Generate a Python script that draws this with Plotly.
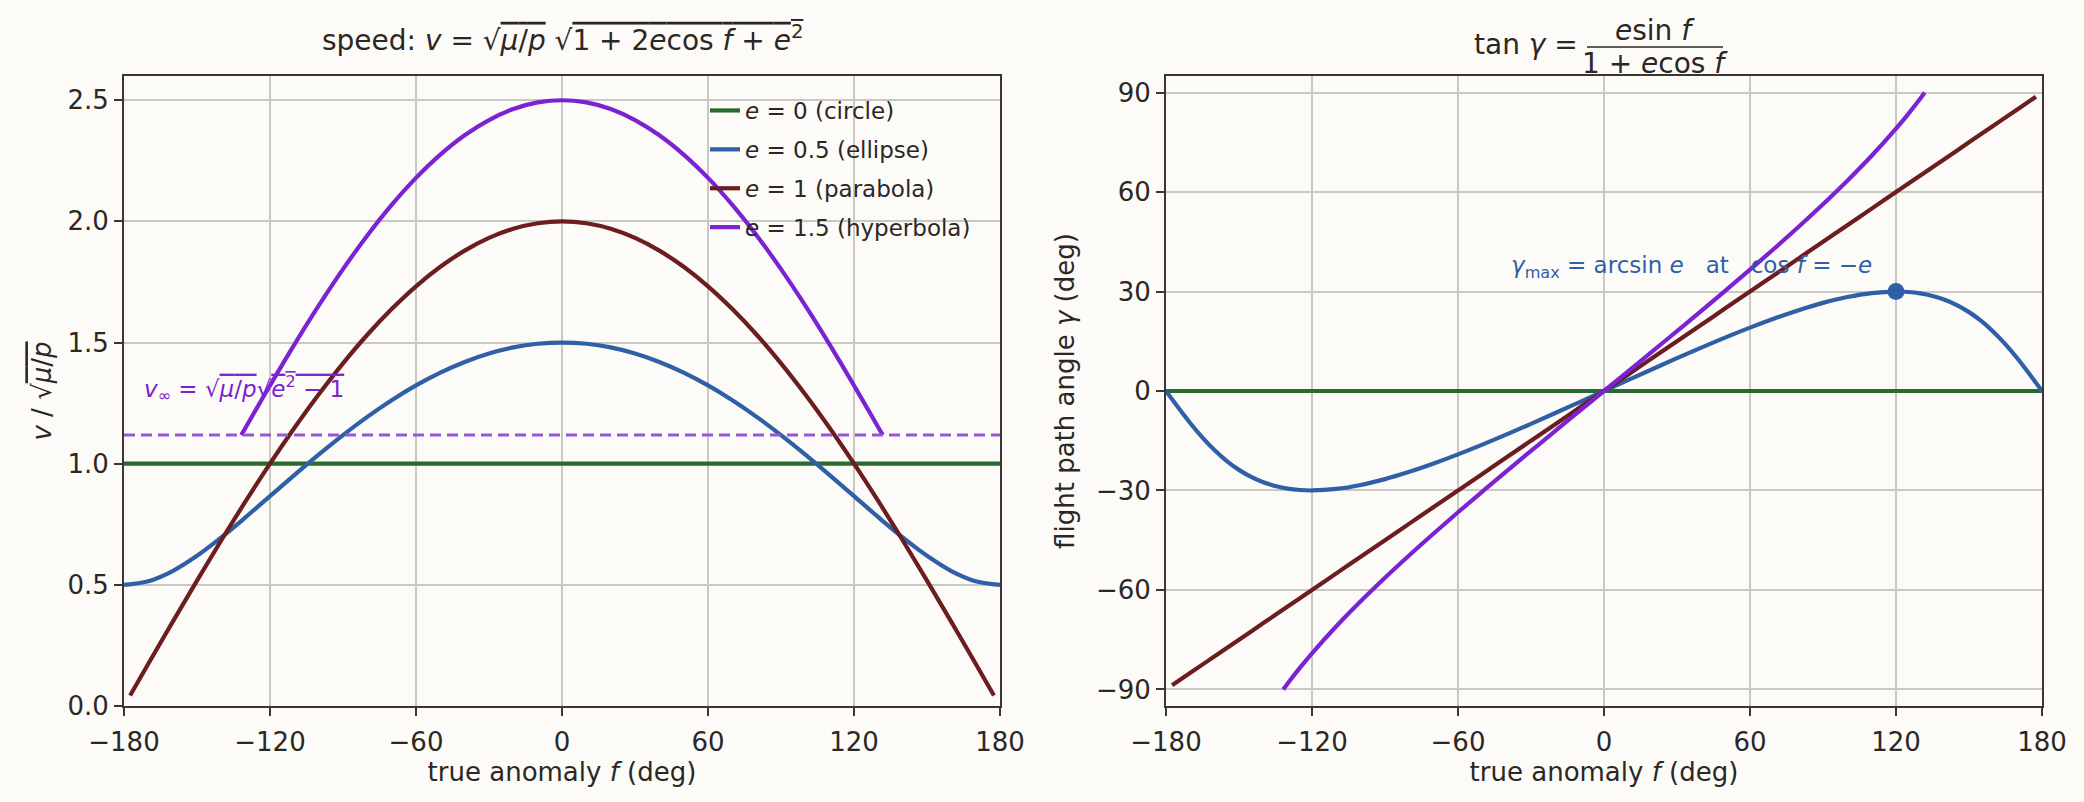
import plotly.graph_objects as go

W, H = 2084, 802
BG = '#fcfbf7'
TXT = '#2b2724'
FRAME = '#3b3632'
GRID = '#cac8c3'
C_CIR = '#2a6a2e'
C_ELL = '#2e5fa7'
C_PAR = '#6b1d1f'
C_HYP = '#7b22d3'
C_DASH = '#9a55de'
FONT = 'DejaVu Sans'

# ---------------- data ----------------
# circle e = 0
F_CIR = [-180, 180]
V_CIR = [1.0, 1.0]
G_CIR = [0.0, 0.0]

# ellipse e = 0.5 : speed
F_ELL = [-180, -170, -160, -150, -140, -130, -120, -110, -100, -90, -80, -70, -60,
         -50, -40, -30, -20, -10, 0, 10, 20, 30, 40, 50, 60, 70, 80, 90, 100, 110,
         120, 130, 140, 150, 160, 170, 180]
V_ELL = [0.5, 0.515, 0.5571, 0.6197, 0.6957, 0.7792, 0.866, 0.9529, 1.0375, 1.118,
         1.1932, 1.2618, 1.3229, 1.3758, 1.4199, 1.4547, 1.4798, 1.4949, 1.5,
         1.4949, 1.4798, 1.4547, 1.4199, 1.3758, 1.3229, 1.2618, 1.1932, 1.118,
         1.0375, 0.9529, 0.866, 0.7792, 0.6957, 0.6197, 0.5571, 0.515, 0.5]

# ellipse e = 0.5 : flight path angle
F_ELL_G = [-180, -175, -170, -165, -160, -155, -150, -145, -140, -135, -130, -125,
           -120, -110, -100, -90, -80, -70, -60, -50, -40, -30, -20, -10, 0,
           10, 20, 30, 40, 50, 60, 70, 80, 90, 100, 110, 120,
           125, 130, 135, 140, 145, 150, 155, 160, 165, 170, 175, 180]
G_ELL = [0.0, -4.96, -9.71, -14.05, -17.88, -21.13, -23.79, -25.91, -27.52, -28.67,
         -29.44, -29.86, -30.0, -29.54, -28.34, -26.57, -24.37, -21.86, -19.11,
         -16.17, -13.08, -9.9, -6.64, -3.33, 0.0,
         3.33, 6.64, 9.9, 13.08, 16.17, 19.11, 21.86, 24.37, 26.57, 28.34, 29.54,
         30.0, 29.86, 29.44, 28.67, 27.52, 25.91, 23.79, 21.13, 17.88, 14.05, 9.71,
         4.96, 0.0]

# parabola e = 1
F_PAR = [-177.5, -170, -160, -150, -140, -130, -120, -110, -100, -90, -80, -70, -60,
         -50, -40, -30, -20, -10, 0, 10, 20, 30, 40, 50, 60, 70, 80, 90, 100, 110,
         120, 130, 140, 150, 160, 170, 177.5]
V_PAR = [0.0436, 0.1743, 0.3473, 0.5176, 0.684, 0.8452, 1.0, 1.1472, 1.2856, 1.4142,
         1.5321, 1.6383, 1.7321, 1.8126, 1.8794, 1.9319, 1.9696, 1.9924, 2.0,
         1.9924, 1.9696, 1.9319, 1.8794, 1.8126, 1.7321, 1.6383, 1.5321, 1.4142,
         1.2856, 1.1472, 1.0, 0.8452, 0.684, 0.5176, 0.3473, 0.1743, 0.0436]
G_PAR = [-88.75, -85, -80, -75, -70, -65, -60, -55, -50, -45, -40, -35, -30, -25,
         -20, -15, -10, -5, 0, 5, 10, 15, 20, 25, 30, 35, 40, 45, 50, 55, 60, 65,
         70, 75, 80, 85, 88.75]

# hyperbola e = 1.5
F_HYP = [-131.8, -130, -125, -120, -110, -100, -90, -80, -70, -60, -50, -40, -30,
         -20, -10, 0, 10, 20, 30, 40, 50, 60, 70, 80, 90, 100, 110, 120, 125, 130,
         131.8]
V_HYP = [1.118, 1.1496, 1.2366, 1.3229, 1.4913, 1.652, 1.8028, 1.9419, 2.0679,
         2.1794, 2.2756, 2.3555, 2.4183, 2.4636, 2.4909, 2.5, 2.4909, 2.4636,
         2.4183, 2.3555, 2.2756, 2.1794, 2.0679, 1.9419, 1.8028, 1.652, 1.4913,
         1.3229, 1.2366, 1.1496, 1.118]
G_HYP = [-90.0, -88.21, -83.52, -79.11, -70.94, -63.41, -56.31, -49.53, -42.97,
         -36.58, -30.33, -24.16, -18.07, -12.02, -6.0, 0.0, 6.0, 12.02, 18.07,
         24.16, 30.33, 36.58, 42.97, 49.53, 56.31, 63.41, 70.94, 79.11, 83.52,
         88.21, 90.0]

# asymptotic speed of the hyperbola and max flight-path angle point
V_INF = 1.118
F_GMAX = [120]
G_GMAX = [30]

X_TICKS = [-180, -120, -60, 0, 60, 120, 180]
Y1_TICKS = [0.0, 0.5, 1.0, 1.5, 2.0, 2.5]
Y2_TICKS = [-90, -60, -30, 0, 30, 60, 90]

NAMES = ['<i>e</i> = 0 (circle)', '<i>e</i> = 0.5 (ellipse)',
         '<i>e</i> = 1 (parabola)', '<i>e</i> = 1.5 (hyperbola)']

# ---------------- figure ----------------
fig = go.Figure()
LW = 4.2

series_left = [(F_CIR, V_CIR, C_CIR), (F_ELL, V_ELL, C_ELL),
               (F_PAR, V_PAR, C_PAR), (F_HYP, V_HYP, C_HYP)]
for i, (fx, fy, c) in enumerate(series_left):
    fig.add_trace(go.Scatter(x=fx, y=fy, mode='lines', name=NAMES[i],
                             line=dict(color=c, width=LW, shape='spline', smoothing=1.0),
                             legendgroup='g%d' % i, showlegend=True,
                             xaxis='x', yaxis='y'))

fig.add_trace(go.Scatter(x=[-180, 180], y=[V_INF, V_INF], mode='lines',
                         line=dict(color=C_DASH, width=3, dash='11px,6px'),
                         showlegend=False, xaxis='x', yaxis='y'))

series_right = [(F_CIR, G_CIR, C_CIR), (F_ELL_G, G_ELL, C_ELL),
                (F_PAR, G_PAR, C_PAR), (F_HYP, G_HYP, C_HYP)]
for i, (fx, fy, c) in enumerate(series_right):
    fig.add_trace(go.Scatter(x=fx, y=fy, mode='lines',
                             line=dict(color=c, width=LW, shape='spline', smoothing=1.0),
                             showlegend=False, xaxis='x2', yaxis='y2'))

fig.add_trace(go.Scatter(x=F_GMAX, y=G_GMAX, mode='markers',
                         marker=dict(color=C_ELL, size=17),
                         showlegend=False, xaxis='x2', yaxis='y2'))

common = dict(showline=True, mirror=True, linecolor=FRAME, linewidth=2,
              ticks='outside', ticklen=8, tickwidth=2, tickcolor=FRAME,
              showgrid=True, gridcolor=GRID, gridwidth=1.6, zeroline=False,
              tickfont=dict(size=26, color=TXT, family=FONT), automargin=False)

XD1 = [124 / W, 1000 / W]
XD2 = [1166 / W, 2042 / W]
YD = [1 - 706 / H, 1 - 76 / H]

xt = dict(text='true anomaly <i>f</i> (deg)', font=dict(size=26, color=TXT, family=FONT),
          standoff=6)
OL = "<span style='text-decoration:overline'>"

fig.update_layout(
    width=W, height=H,
    margin=dict(l=0, r=0, t=0, b=0),
    paper_bgcolor=BG, plot_bgcolor=BG,
    font=dict(family=FONT, color=TXT),
    xaxis=dict(domain=XD1, range=[-180, 180], tickvals=X_TICKS, anchor='y',
               ticklabelstandoff=4, title=xt, **common),
    yaxis=dict(domain=YD, range=[0, 2.6], tickvals=Y1_TICKS, tickformat='.1f',
               anchor='x',
               title=dict(text='<i>v</i> / √' + OL + '<i>μ</i>/<i>p</i></span>',
                          font=dict(size=26, color=TXT, family=FONT), standoff=8),
               **common),
    xaxis2=dict(domain=XD2, range=[-180, 180], tickvals=X_TICKS, anchor='y2',
                ticklabelstandoff=4, title=xt, **common),
    yaxis2=dict(domain=YD, range=[-95, 95], tickvals=Y2_TICKS, anchor='x2',
                title=dict(text='flight path angle <i>γ</i> (deg)',
                           font=dict(size=26, color=TXT, family=FONT), standoff=14),
                **common),
    legend=dict(x=705 / W, y=1 - 89 / H, xanchor='left', yanchor='top',
                bgcolor='rgba(0,0,0,0)', borderwidth=0, tracegroupgap=6,
                font=dict(size=23, color=TXT, family=FONT)),
)

ann = []
ann.append(dict(xref='paper', yref='paper', x=562 / W, y=1 - 38 / H,
                xanchor='center', yanchor='middle', showarrow=False,
                font=dict(size=28, color=TXT, family=FONT),
                text='speed: <i>v</i> = √' + OL + '<i>μ</i>/<i>p</i></span> √' + OL +
                     '1 + 2<i>e</i>cos <i>f</i> + <i>e</i><sup>2</sup></span>'))
ann.append(dict(xref='paper', yref='paper', x=1580 / W, y=1 - 44 / H,
                xanchor='right', yanchor='middle', showarrow=False,
                font=dict(size=28, color=TXT, family=FONT),
                text='tan <i>γ</i> ='))
ann.append(dict(xref='paper', yref='paper', x=1655 / W, y=1 - 31 / H,
                xanchor='center', yanchor='middle', showarrow=False,
                font=dict(size=28, color=TXT, family=FONT),
                text='<i>e</i>sin <i>f</i>'))
ann.append(dict(xref='paper', yref='paper', x=1655 / W, y=1 - 63 / H,
                xanchor='center', yanchor='middle', showarrow=False,
                font=dict(size=28, color=TXT, family=FONT),
                text='1 + <i>e</i>cos <i>f</i>'))
ann.append(dict(xref='x', yref='y', x=-172.5, y=1.31, xanchor='left', yanchor='middle',
                showarrow=False, font=dict(size=23, color=C_HYP, family=FONT),
                text='<i>v</i><sub>∞</sub> = √' + OL + '<i>μ</i>/<i>p</i></span>√' + OL +
                     '<i>e</i><sup>2</sup> − 1</span>'))
ann.append(dict(xref='x2', yref='y2', x=36, y=37.5, xanchor='center', yanchor='middle',
                showarrow=False, font=dict(size=23, color=C_ELL, family=FONT),
                text='<i>γ</i><sub>max</sub> = arcsin <i>e</i>\u00a0\u00a0\u00a0at\u00a0\u00a0\u00a0cos <i>f</i> = −<i>e</i>'))
fig.update_layout(annotations=ann)

fig.add_shape(type='line', xref='paper', yref='paper',
              x0=1587 / W, x1=1723 / W, y0=1 - 47 / H, y1=1 - 47 / H,
              line=dict(color=TXT, width=1.6))

fig.write_html('out.html', config={'displayModeBar': False},
               post_script="document.body.style.margin='0px';")
